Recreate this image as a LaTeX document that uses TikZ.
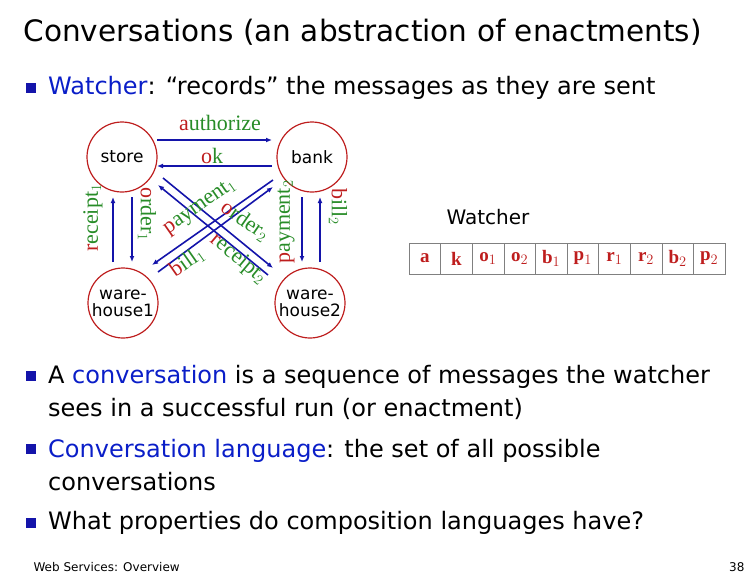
\documentclass[tikz,border=0pt]{standalone}
\usepackage{fontspec}
\setmainfont{DejaVu Sans}
\newfontfamily\lblfont{Liberation Serif}
\usetikzlibrary{arrows.meta}
\definecolor{cred}{RGB}{190,30,30}
\definecolor{cgreen}{RGB}{40,140,40}
\definecolor{cblue}{RGB}{20,20,170}
\definecolor{tblue}{RGB}{10,30,200}
\newcommand{\lb}[2]{{\lblfont\textcolor{cred}{#1}\textcolor{cgreen}{#2}}}
\newcommand{\rs}[1]{{\lblfont\textbf{\textcolor{cred}{#1}}}}
\begin{document}
\begin{tikzpicture}[x=1pt,y=-1pt,
  agent/.style={circle,draw=cred,line width=1.2pt,minimum size=70pt,inner sep=0pt,align=center,font=\fontsize{17}{17}\selectfont},
  msg/.style={draw=cblue,line width=1.6pt,-{Latex[length=6pt,width=5pt]}},
  lbl/.style={font=\fontsize{22}{22}\selectfont,inner sep=0pt},
  bul/.style={fill=cblue,minimum size=10pt,inner sep=0pt},
  btxt/.style={anchor=west,font=\fontsize{24}{33}\selectfont,align=left,inner sep=0pt},
  cell/.style={draw=gray,minimum width=31.6pt,minimum height=31pt,inner sep=0pt,font=\fontsize{19}{19}\selectfont}]
\useasboundingbox (0,0) rectangle (756,576);
\node[anchor=west,font=\fontsize{29.5}{30}\selectfont] (title) at (20,32) {Conversations (an abstraction of enactments)};
\node[bul] (b0) at (31,88) {};
\node[btxt] (t0) at (48,88) {\textcolor{tblue}{Watcher}: “records” the messages as they are sent};
\node[agent] (store) at (122,157) {store};
\node[agent] (bank) at (312,157) {bank};
\node[agent] (w1) at (123,303) {ware-\\house1};
\node[agent] (w2) at (310,303) {ware-\\house2};
\coordinate (a1) at (157,140); \coordinate (a2) at (272,140);
\coordinate (k1) at (272,166); \coordinate (k2) at (157,166);
\coordinate (r1a) at (113,262); \coordinate (r1b) at (113,197);
\coordinate (o1a) at (132,197); \coordinate (o1b) at (132,262);
\coordinate (p2a) at (302,197); \coordinate (p2b) at (302,262);
\coordinate (b2a) at (320,262); \coordinate (b2b) at (320,197);
\coordinate (la) at (273,180); \coordinate (lb) at (152,265);
\coordinate (ma) at (158,272); \coordinate (mb) at (273,187);
\coordinate (na) at (163,178); \coordinate (nb) at (273,268);
\coordinate (qa) at (268,275); \coordinate (qb) at (158,185);
\draw[msg] (a1) -- (a2);
\draw[msg] (k1) -- (k2);
\draw[msg] (r1a) -- (r1b);
\draw[msg] (o1a) -- (o1b);
\draw[msg] (p2a) -- (p2b);
\draw[msg] (b2a) -- (b2b);
\draw[msg] (la) -- (lb);
\draw[msg] (ma) -- (mb);
\draw[msg] (na) -- (nb);
\draw[msg] (qa) -- (qb);
\node[lbl] (lauth) at (220,123) {\lb{a}{uthorize}};
\node[lbl] (lok) at (212,156) {\lb{o}{k}};
\node[lbl,rotate=90] (lr1) at (93,218) {\lb{r}{eceipt$_1$}};
\node[lbl,rotate=-90] (lo1) at (147,214) {\lb{o}{rder$_1$}};
\node[lbl,rotate=90] (lp2) at (286,222) {\lb{p}{ayment$_2$}};
\node[lbl,rotate=-90] (lb2) at (338,207) {\lb{b}{ill$_2$}};
\node[lbl,rotate=35] (lp1) at (200,207) {\lb{p}{ayment$_1$}};
\node[lbl,rotate=-35] (lo2) at (245,221) {\lb{o}{rder$_2$}};
\node[lbl,rotate=35] (lbi1) at (187,262) {\lb{b}{ill$_1$}};
\node[lbl,rotate=-40] (lre2) at (238,259) {\lb{r}{eceipt$_2$}};
\node[font=\fontsize{20}{20}\selectfont] (watch) at (488,217) {Watcher};
\foreach \t [count=\i] in {a,k,o$_1$,o$_2$,b$_1$,p$_1$,r$_1$,r$_2$,b$_2$,p$_2$}
  \node[cell] (c\i) at (409+15.8+31.6*\i-31.6,258.5) {\rs{\t}};
\node[bul] (b1) at (31,376) {};
\node[btxt] (t1) at (48,392.5) {A \textcolor{tblue}{conversation} is a sequence of messages the watcher\\sees in a successful run (or enactment)};
\node[bul] (b2) at (31,449) {};
\node[btxt] (t2) at (48,465.5) {\textcolor{tblue}{Conversation language}: the set of all possible\\conversations};
\node[bul] (b3) at (31,523) {};
\node[btxt] (t3) at (48,523) {What properties do composition languages have?};
\node[anchor=west,font=\fontsize{12}{12}\selectfont] (foot) at (30,567) {Web Services: Overview};
\node[anchor=east,font=\fontsize{12}{12}\selectfont] (pg) at (748,567) {38};
\end{tikzpicture}
\end{document}
